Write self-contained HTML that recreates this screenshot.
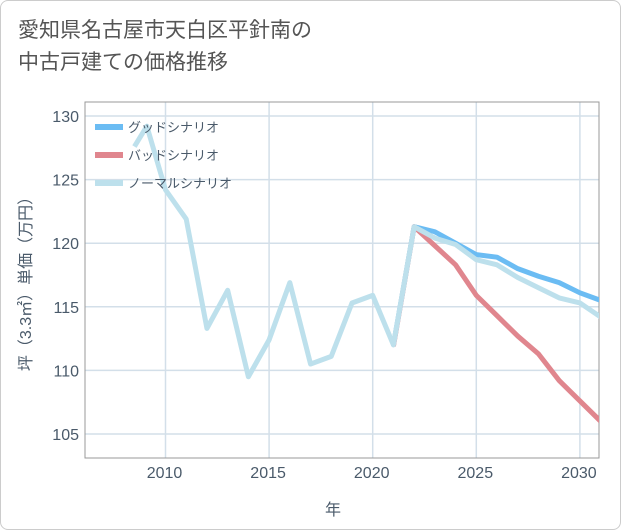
<!DOCTYPE html>
<html><head><meta charset="utf-8"><style>
body{margin:0;background:#fff;}
#wrap{position:relative;width:619px;height:528px;border:1px solid #ccc;border-radius:8px;overflow:hidden;background:#fff;font-family:"Liberation Sans","Noto Sans CJK JP",sans-serif;}
#title{position:absolute;left:17px;top:14px;font-size:21px;line-height:32px;color:#555;}
svg{position:absolute;left:0;top:0}
</style></head><body>
<div id="wrap">
<div id="title">愛知県名古屋市天白区平針南の<br>中古戸建ての価格推移</div>
<svg id="chart" width="621" height="530"></svg>
</div>
<script>
const yearsPast=[2008.5,2009.1,2010,2011,2012,2013,2014,2015,2016,2017,2018,2019,2020,2021,2022];
const normalPast=[127.6,129.2,124.2,121.9,113.3,116.3,109.5,112.4,116.9,110.5,111.1,115.3,115.9,112.0,121.3];
const yearsFuture=[2021,2022,2023,2024,2025,2026,2027,2028,2029,2030,2031];
const goodVals=[112.0,121.3,120.9,120.0,119.1,118.9,118.0,117.4,116.9,116.1,115.5];
const badVals=[111.9,121.3,119.8,118.3,115.9,114.3,112.7,111.3,109.2,107.6,106.0];
const normalFuture=[112.0,121.3,120.4,119.9,118.7,118.3,117.3,116.5,115.7,115.3,114.2];
const xTicks=[2010,2015,2020,2025,2030];
const yTicks=[105,110,115,120,125,130];
const legendLabels=["グッドシナリオ","バッドシナリオ","ノーマルシナリオ"];
const ns="http://www.w3.org/2000/svg";
const svg=document.getElementById('chart');
const L=84,R=598,T=101,B=457;
function xs(v){return 164.5+(v-2010)*20.72;}
function ys(v){return 115+(130-v)*12.72;}
function mk(t,a,p){const e=document.createElementNS(ns,t);for(const k in a)e.setAttribute(k,a[k]);(p||svg).appendChild(e);return e;}
const clip=mk('clipPath',{id:'c'});mk('rect',{x:L,y:T,width:R-L,height:B-T},clip);
xTicks.forEach(t=>{
 const g=mk('line',{x1:xs(t),x2:xs(t),y1:T,y2:B,stroke:'#d3dfe9','stroke-width':1.5});
 
 const l=mk('text',{x:xs(t)-1,y:477,'text-anchor':'middle','font-size':16,fill:'#4a5a6a'});l.textContent=t;
 
});
yTicks.forEach(t=>{
 const g=mk('line',{x1:L,x2:R,y1:ys(t),y2:ys(t),stroke:'#d3dfe9','stroke-width':1.5});
 
 const l=mk('text',{x:78,y:ys(t)+6,'text-anchor':'end','font-size':16,fill:'#4a5a6a'});l.textContent=t;
 
});
const fr=mk('rect',{x:L,y:T,width:R-L,height:B-T,fill:'none',stroke:'#999','stroke-width':1});

function line(xsv,vals,color,name){
 const p=mk('polyline',{points:xsv.map((x,i)=>xs(x)+','+ys(vals[i])).join(' '),fill:'none',stroke:color,'stroke-width':5,'stroke-linejoin':'round','clip-path':'url(#c)'});
 
}
line(yearsFuture,goodVals,'#6bbcf3','good-scenario-line');
line(yearsFuture,badVals,'#e0868e','bad-scenario-line');
line(yearsFuture,normalFuture,'#bde0ec','normal-scenario-line-future');
line(yearsPast,normalPast,'#bde0ec','normal-scenario-line');
const lc=['#6bbcf3','#e0868e','#bde0ec'];
legendLabels.forEach((s,i)=>{
 const y=126+i*28;
 const sw=mk('line',{x1:94,x2:122,y1:y,y2:y,stroke:lc[i],'stroke-width':6});
 
 const t=mk('text',{x:127,y:y+5,'font-size':13,fill:'#4a5a6a'});t.textContent=s;
 
});
const xt=mk('text',{x:332,y:514,'text-anchor':'middle','font-size':16,fill:'#4a5a6a'});xt.textContent='年';

const yt=mk('text',{x:0,y:0,'text-anchor':'middle','font-size':16,fill:'#4a5a6a',transform:'translate(30,279) rotate(-90)'});yt.textContent='坪（3.3㎡）単価（万円）';

</script>
</body></html>
